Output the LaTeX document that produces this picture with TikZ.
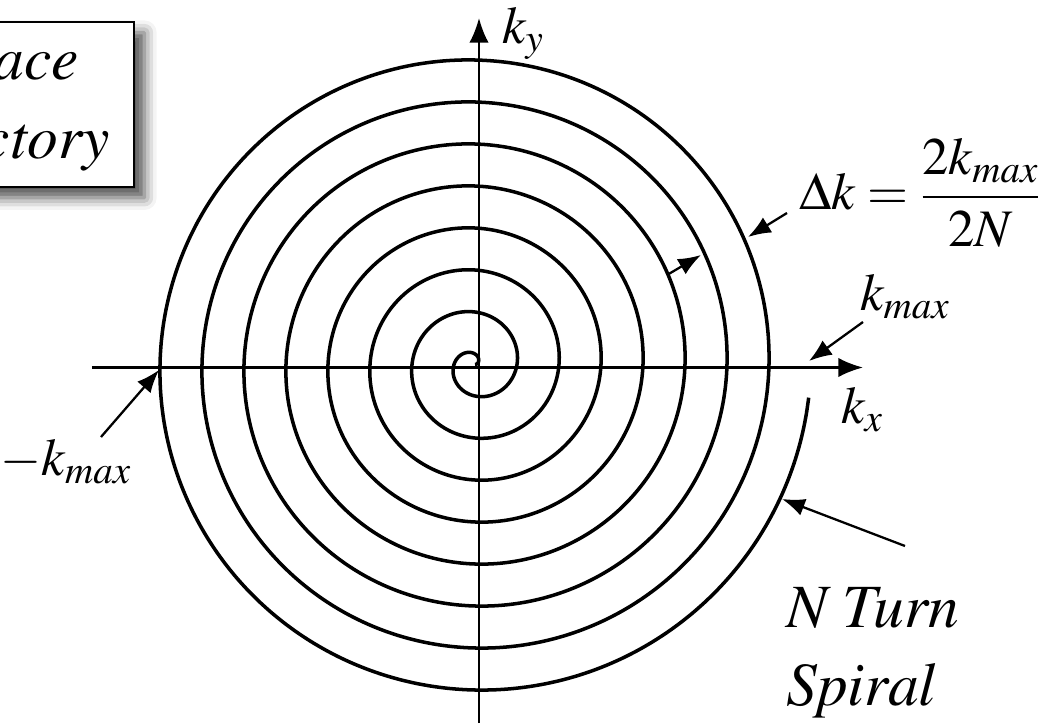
\documentclass[tikz,border=0pt]{standalone}
\usepackage[T1]{fontenc}
\usepackage{mathptmx}
\usetikzlibrary{calc, positioning, arrows.meta, shadows.blur}

\begin{document}
\begin{tikzpicture}[
        font=\itshape\fontsize{35}{44}\selectfont,
        >=Latex,
        axis/.style={
            line width=1.3pt,
            -{Latex[length=14pt, width=11pt]}
        },
        pointer/.style={
            line width=1.3pt,
            -{Latex[length=13pt, width=10pt]}
        },
        spiral/.style={line width=2pt},
        label/.style={inner sep=0pt, font=\fontsize{30}{36}\selectfont},
        titlebox/.style={
            draw=black,
            line width=1.3pt,
            fill=white,
            align=center,
            inner xsep=14pt,
            minimum height=3.3cm,
            font=\itshape\fontsize{35}{45}\selectfont,
            blur shadow={shadow xshift=6pt, shadow yshift=-6pt,
                shadow blur radius=7pt, shadow opacity=70}
        }
    ]
    
    % --- FRAME ---
    \useasboundingbox (-9.58,-7.17) rectangle (11.32,7.35);
    \clip (-9.58,-7.17) rectangle (11.32,7.35);
    
    % --- AXES ---
    \coordinate (xstart) at (-7.74,0);
    \coordinate (xend) at (7.68,0);
    \coordinate (ystart) at (0,-7.11);
    \coordinate (yend) at (0,6.99);
    \draw[axis] (xstart) -- (xend);
    \draw[axis] (ystart) -- (yend);
    \node[label] (ky) at (0.88,6.69) {$k_y$};
    \node[label] (kx) at (7.66,-0.85) {$k_x$};
    
    % --- SPIRAL ---
    \draw[spiral, shift={(-0.08,0.06)}]
        plot[domain=0:50.18, samples=1000, smooth] ({deg(\x)}:{0.1337*\x});
    
    % --- TITLE ---
    \node[titlebox, anchor=north east] (title) at (-6.88,6.93) {k-Space\\Trajectory};
    
    % --- LABELS ---
    \node[label] (dk) at (8.82,3.50) {$\displaystyle \Delta k = \frac{2k_{max}}{2N}$};
    \node[label] (kmax) at (8.52,1.41) {$k_{max}$};
    \node[label] (negkmax) at (-8.26,-1.89) {$-k_{max}$};
    \node[inner sep=0pt, align=left, anchor=north west] (nturn) at (6.14,-4.41) {N Turn\\Spiral};
    
    % --- POINTERS ---
    \coordinate (dktail) at (6.16,3.09);
    \coordinate (dktip) at (5.38,2.61);
    \coordinate (steptail) at (3.76,1.85);
    \coordinate (steptip) at (4.44,2.25);
    \coordinate (kmaxtail) at (7.68,0.91);
    \coordinate (kmaxtip) at (6.60,0.13);
    \coordinate (negtail) at (-7.56,-1.39);
    \coordinate (negtip) at (-6.40,-0.05);
    \coordinate (turntail) at (8.52,-3.57);
    \coordinate (turntip) at (6.06,-2.63);
    
    \draw[pointer] (dktail) -- (dktip);
    \draw[pointer] (steptail) -- (steptip);
    \draw[pointer] (kmaxtail) -- (kmaxtip);
    \draw[pointer] (negtail) -- (negtip);
    \draw[pointer] (turntail) -- (turntip);
    
\end{tikzpicture}
\end{document}
